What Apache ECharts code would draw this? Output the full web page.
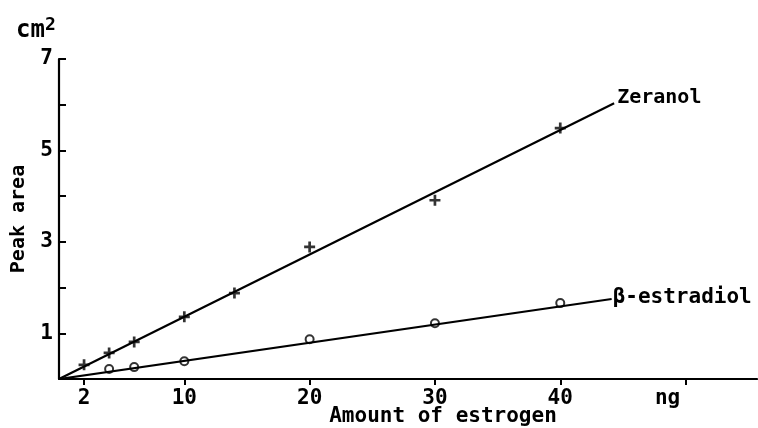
<!DOCTYPE html>
<html><head><meta charset="utf-8">
<script src="https://cdn.jsdelivr.net/npm/echarts@6/dist/echarts.min.js"></script>
<style>html,body{margin:0;padding:0;background:#fff}#c{width:758px;height:428px}</style>
</head><body><div id="c"></div>
<script>
// ---- data ----
const xTicks = [2, 10, 20, 30, 40, 50];
const xTickLabels = ['2', '10', '20', '30', '40', 'ng'];
const yTicks = [1, 2, 3, 4, 5, 6, 7];
const yTickLabels = [1, 3, 5, 7];
const zeranolX = [2, 4, 6, 10, 14, 20, 30, 40];
const zeranolY = [0.31, 0.57, 0.81, 1.36, 1.88, 2.89, 3.91, 5.49];
const estradiolX = [4, 6, 10, 20, 30, 40];
const estradiolY = [0.22, 0.26, 0.39, 0.87, 1.22, 1.66];
const zeranolFitX = [0, 44.3];
const zeranolFitY = [0, 6.03];
const estradiolFitX = [0, 44.1];
const estradiolFitY = [0, 1.75];
const xMax = 55.7, yMax = 7;

const FONT = 'DejaVu Sans Mono';
const pair = (xs, ys) => xs.map((x, i) => [x, ys[i]]);
const plusPath = 'path://M4,0 L6.6,0 L6.6,4 L10.6,4 L10.6,6.6 L6.6,6.6 L6.6,10.6 L4,10.6 L4,6.6 L0,6.6 L0,4 L4,4 Z';

const chart = echarts.init(document.getElementById('c'), null, {renderer: 'canvas'});
chart.setOption({
  animation: false,
  backgroundColor: '#fff',
  title: {
    text: 'cm{sup|2}', left: 11, top: 11,
    textStyle: {fontFamily: FONT, fontSize: 24, color: '#000', fontWeight: 'bold',
      rich: {sup: {fontFamily: FONT, fontSize: 18, fontWeight: 'bold', color: '#000', verticalAlign: 'top', padding: [0, 0, 12, 0]}}}
  },
  grid: {left: 59, right: 1, top: 59, bottom: 49, containLabel: false, outerBoundsMode: 'none'},
  xAxis: {
    type: 'value', min: 0, max: xMax,
    name: 'Amount of estrogen', nameLocation: 'middle', nameGap: 27, nameMoveOverlap: false,
    nameTextStyle: {fontFamily: FONT, fontSize: 21, fontWeight: 'bold', color: '#000', padding: [0, 0, 0, 70]},
    axisLine: {show: true, lineStyle: {color: '#000', width: 2.2}},
    axisTick: {show: true, customValues: xTicks, length: 6, inside: false, lineStyle: {color: '#000', width: 2}},
    axisLabel: {
      customValues: xTicks, margin: 9, color: '#000', fontFamily: FONT, fontSize: 21, fontWeight: 'bold',
      formatter: v => { const i = xTicks.indexOf(v); const t = i >= 0 ? xTickLabels[i] : ''; return t === 'ng' ? '{ng|ng}' : t; },
      rich: {ng: {fontFamily: FONT, fontSize: 21, fontWeight: 'bold', color: '#000', padding: [0, 36, 0, 0]}}
    },
    splitLine: {show: false}
  },
  yAxis: {
    type: 'value', min: 0, max: yMax, interval: 1,
    name: 'Peak area', nameLocation: 'middle', nameGap: 30, nameRotate: 90, nameMoveOverlap: false,
    nameTextStyle: {fontFamily: FONT, fontSize: 20, fontWeight: 'bold', color: '#000'},
    axisLine: {show: true, lineStyle: {color: '#000', width: 2.2}},
    axisTick: {show: true, customValues: yTicks, length: 7, inside: true, lineStyle: {color: '#000', width: 2}},
    axisLabel: {customValues: yTickLabels, margin: 6, color: '#000', fontFamily: FONT, fontSize: 21, fontWeight: 'bold'},
    splitLine: {show: false}
  },
  series: [
    {
      name: 'Zeranol', type: 'line', data: pair(zeranolFitX, zeranolFitY),
      symbol: 'none', lineStyle: {color: '#000', width: 2.2},
      endLabel: {show: true, formatter: '{a}', fontFamily: FONT, fontSize: 20, fontWeight: 'bold', color: '#000', offset: [0, -6], distance: 3}
    },
    {
      name: 'β-estradiol', type: 'line', data: pair(estradiolFitX, estradiolFitY),
      symbol: 'none', lineStyle: {color: '#000', width: 2.2},
      endLabel: {show: true, formatter: '{a}', fontFamily: FONT, fontSize: 21, fontWeight: 'bold', color: '#000', offset: [0, -1], distance: 1}
    },
    {
      name: 'Zeranol points', type: 'scatter', data: pair(zeranolX, zeranolY),
      symbol: plusPath, symbolSize: 11, itemStyle: {color: '#000'}
    },
    {
      name: 'estradiol points', type: 'scatter', data: pair(estradiolX, estradiolY),
      symbol: 'emptyCircle', symbolSize: 8, itemStyle: {color: '#000', borderColor: '#000', borderWidth: 1.8}
    }
  ]
});
</script></body></html>
